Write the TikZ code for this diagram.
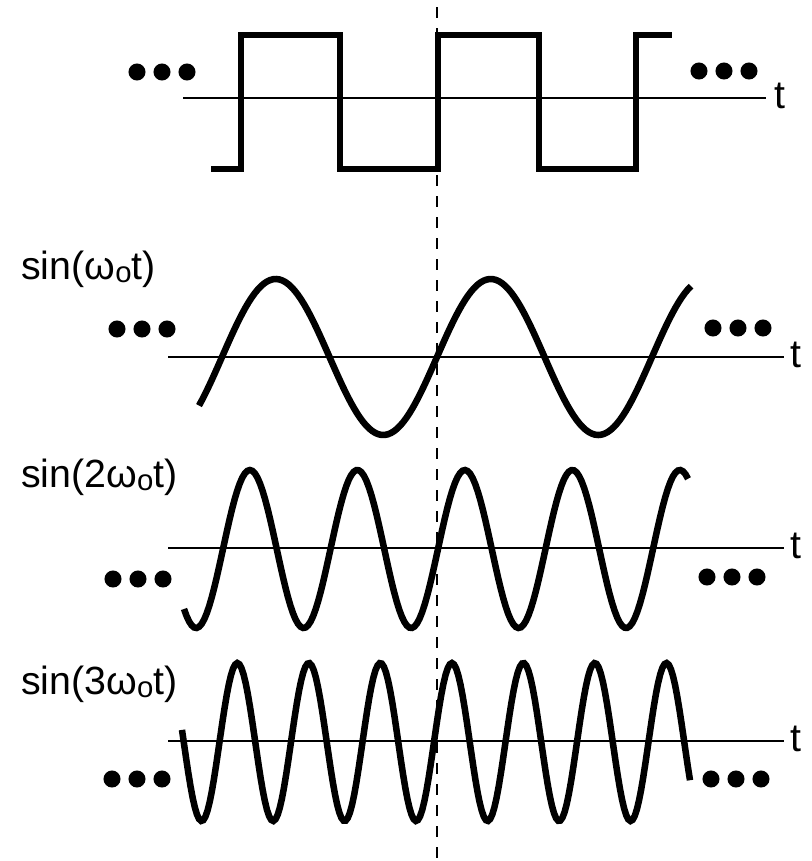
\documentclass[tikz,border=0pt]{standalone}
\usepackage{fontspec}
\setmainfont{Liberation Sans}
\newcommand{\threedots}[2]{\foreach \k in {0,1,2}{\fill ({#1+\k*25},#2) circle[radius=6.4pt];}}
\newcommand{\subo}{\raisebox{-2.5pt}{\fontsize{22}{22}\selectfont o}}

\begin{document}
\begin{tikzpicture}[x=0.75pt,y=-0.75pt,
    wave/.style={line width=4.9pt, line join=miter},
    axisline/.style={line width=1.5pt},
    lbl/.style={font=\fontsize{29.5}{31}\selectfont, inner sep=0pt},
    guide/.style={line width=1.4pt, dash pattern=on 8.25pt off 7.5pt}]
  \useasboundingbox (0,0) rectangle (811,861);

  % dashed reference line
  \draw[guide] (437,7) -- (437,861);

  % square wave
  \draw[axisline] (183,98) -- (766,98);
  \node[lbl, anchor=base west] (tsq) at (774,108) {t};
  \draw[wave] (211,169) -- (241,169) -- (241,35) -- (340,35) -- (340,169)
       -- (438,169) -- (438,35) -- (539,35) -- (539,169) -- (636,169)
       -- (636,35) -- (672,35);
  \threedots{137}{72}
  \threedots{699}{71}

  % fundamental
  \node[lbl, anchor=base west] (lone) at (21,279) {sin(ω\subo t)};
  \draw[axisline] (168,357) -- (784,357);
  \node[lbl, anchor=base west] (tone) at (790,367) {t};
  \draw[wave] plot[domain=199:691, samples=160] (\x, {357-78*sin((\x-437)/215*360)});
  \threedots{117}{329}
  \threedots{713}{328}

  % second harmonic
  \node[lbl, anchor=base west] (ltwo) at (21,487) {sin(2ω\subo t)};
  \draw[axisline] (168,548) -- (784,548);
  \node[lbl, anchor=base west] (ttwo) at (790,558) {t};
  \draw[wave] plot[domain=184:688, samples=200] (\x, {549-79*sin((\x-438)/107.5*360)});
  \threedots{113}{579}
  \threedots{707}{577}

  % third harmonic
  \node[lbl, anchor=base west] (lthree) at (21,694) {sin(3ω\subo t)};
  \draw[axisline] (168,741) -- (784,741);
  \node[lbl, anchor=base west] (tthree) at (790,751) {t};
  \draw[wave] plot[domain=182:690, samples=240] (\x, {742-79*sin((\x-434)/71.5*360)});
  \threedots{112}{779}
  \threedots{711}{779}
\end{tikzpicture}
\end{document}
